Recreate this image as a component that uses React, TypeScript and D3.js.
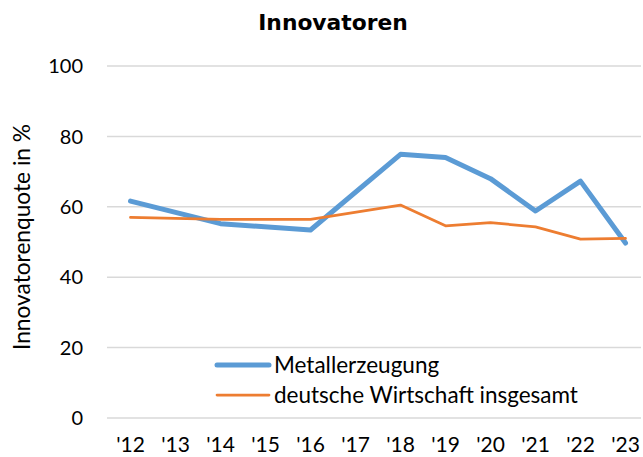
import React, { useEffect, useRef } from 'react';
import * as d3 from 'd3';

const years = ["'12", "'13", "'14", "'15", "'16", "'17", "'18", "'19", "'20", "'21", "'22", "'23"];
const metall: (number | null)[] = [61.6, null, 55.2, null, 53.4, null, 74.9, 74.0, 68.0, 58.8, 67.3, 49.7];
const gesamt: (number | null)[] = [57.0, null, 56.4, null, 56.4, null, 60.5, 54.6, 55.5, 54.3, 50.8, 51.0];
const yTicks = [0, 20, 40, 60, 80, 100];

const series = [
  { name: 'Metallerzeugung', values: metall, color: '#5B9BD5', width: 5 },
  { name: 'deutsche Wirtschaft insgesamt', values: gesamt, color: '#ED7D31', width: 2.75 },
];

export default function App() {
  const ref = useRef<SVGSVGElement>(null);

  useEffect(() => {
    const width = 643;
    const height = 457;
    const marginLeft = 108;
    const marginTop = 66;
    const marginBottom = 39;
    const font = "Lato, Carlito, Calibri, 'Open Sans', sans-serif";

    const svg = d3.select(ref.current)
      .attr('width', width)
      .attr('height', height);
    svg.selectAll('*').remove();

    const x = d3.scaleBand()
      .domain(years)
      .range([marginLeft, 648]);

    const y = d3.scaleLinear()
      .domain([0, 100])
      .range([height - marginBottom, marginTop]);

    // horizontal gridlines
    svg.append('g')
      .selectAll('line')
      .data(yTicks)
      .join('line')
      .attr('x1', marginLeft - 1)
      .attr('x2', width - 2)
      .attr('y1', d => y(d))
      .attr('y2', d => y(d))
      .attr('stroke', '#d9d9d9')
      .attr('stroke-width', 1.5);

    svg.append('g')
      .selectAll('text')
      .data(yTicks)
      .join('text')
      .attr('x', 83)
      .attr('y', d => y(d))
      .attr('dy', '0.36em')
      .attr('text-anchor', 'end')
      .attr('font-family', font)
      .attr('font-size', 20)
      .attr('fill', '#000')
      .text(d => d);

    svg.append('g')
      .selectAll('text')
      .data(years)
      .join('text')
      .attr('x', d => x(d)! + x.bandwidth() / 2)
      .attr('y', 452)
      .attr('text-anchor', 'middle')
      .attr('font-family', font)
      .attr('font-size', 21)
      .attr('fill', '#000')
      .text(d => d);

    svg.append('text')
      .attr('transform', `translate(22,237) rotate(-90)`)
      .attr('dy', '0.36em')
      .attr('text-anchor', 'middle')
      .attr('font-family', font)
      .attr('font-size', 22.7)
      .attr('fill', '#000')
      .text('Innovatorenquote in %');

    svg.append('text')
      .attr('x', 333)
      .attr('y', 30)
      .attr('text-anchor', 'middle')
      .attr('font-family', "Verdana, 'DejaVu Sans', sans-serif")
      .attr('font-weight', 'bold')
      .attr('font-size', 21.8)
      .attr('fill', '#000')
      .text('Innovatoren');

    const line = d3.line<{ year: string; v: number }>()
      .x(d => x(d.year)! + x.bandwidth() / 2)
      .y(d => y(d.v));

    // Excel-style: gaps for missing years are bridged
    series.forEach(s => {
      const pts = years
        .map((year, i) => ({ year, v: s.values[i] }))
        .filter(d => d.v !== null) as { year: string; v: number }[];
      svg.append('path')
        .datum(pts)
        .attr('fill', 'none')
        .attr('stroke', s.color)
        .attr('stroke-width', s.width)
        .attr('stroke-linejoin', 'round')
        .attr('stroke-linecap', 'round')
        .attr('d', line);
    });

    const legend = svg.append('g');
    series.forEach((s, i) => {
      const ly = 365 + i * 30;
      legend.append('line')
        .attr('x1', 217)
        .attr('x2', 269)
        .attr('y1', ly)
        .attr('y2', ly)
        .attr('stroke', s.color)
        .attr('stroke-width', s.width)
        .attr('stroke-linecap', 'round');
      legend.append('text')
        .attr('x', 274)
        .attr('y', ly)
        .attr('dy', '0.36em')
        .attr('font-family', font)
        .attr('font-size', 22.5)
        .attr('fill', '#000')
        .text(s.name);
    });
  }, []);

  return <svg ref={ref} style={{ position: 'absolute', left: 0, top: 0 }}></svg>;
}
